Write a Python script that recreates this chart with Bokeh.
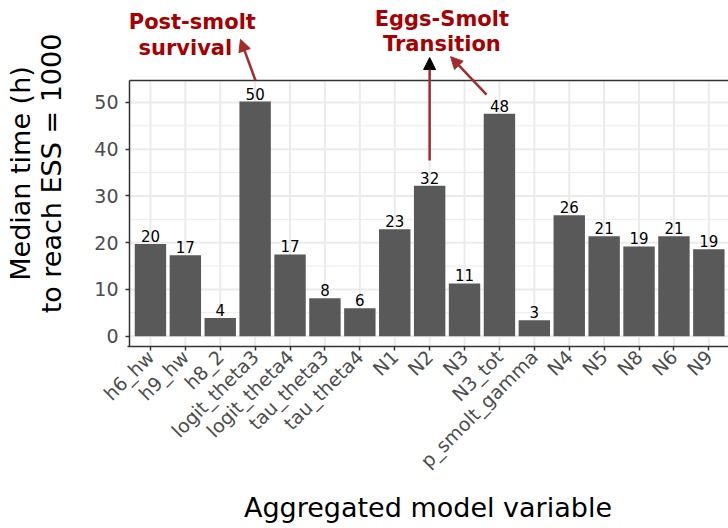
import math
from bokeh.plotting import figure
from bokeh.models import ColumnDataSource, FixedTicker, Arrow, NormalHead, Range1d
from bokeh.core.properties import value
from bokeh.embed import file_html
from bokeh.resources import INLINE

# ---- data ----
variables = ["h6_hw", "h9_hw", "h8_2", "logit_theta3", "logit_theta4", "tau_theta3",
             "tau_theta4", "N1", "N2", "N3", "N3_tot", "p_smolt_gamma", "N4", "N5",
             "N8", "N6", "N9"]
median_hours = [19.7, 17.3, 3.9, 50.2, 17.5, 8.1, 6.0, 22.9, 32.2, 11.3, 47.6, 3.4,
                25.9, 21.4, 19.2, 21.4, 18.6]
bar_labels = ["20", "17", "4", "50", "17", "8", "6", "23", "32", "11", "48", "3",
              "26", "21", "19", "21", "19"]
y_ticks = [0, 10, 20, 30, 40, 50]
y_minor = [5, 15, 25, 35, 45]

# annotation texts (data-space anchors)
note_text = ["Post-smolt", "survival", "Eggs-Smolt", "Transition"]
note_x = [2.2, 2.0, 9.35, 9.35]
note_y = [67.2, 61.55, 67.75, 62.6]

positions = list(range(1, len(variables) + 1))

# panel limits (data units)
X0, X1 = 0.4, 17.56
Y0, Y1 = -2.2, 54.7
PX_PER_UNIT = 34.9
FRAME_LEFT = 127

FONT = "DejaVu Sans"
DARK = "#333333"
GRID = "#EBEBEB"
RED_TEXT = "#A80000"
RED_ARROW = "#A52A2A"

src = ColumnDataSource(dict(x=positions, top=median_hours, label=bar_labels))

x_start = X0 - (129 - FRAME_LEFT) / PX_PER_UNIT
p = figure(width=728, height=528, output_backend="svg", toolbar_location=None,
           x_range=Range1d(x_start, x_start + (728 - FRAME_LEFT) / PX_PER_UNIT),
           y_range=Range1d(Y0, 71.81),
           min_border_left=FRAME_LEFT, min_border_right=0, min_border_top=0,
           min_border_bottom=182)
p.outline_line_color = None
p.xgrid.grid_line_color = None
p.ygrid.grid_line_color = None

# panel grid (limited to the panel area)
p.segment(x0=positions, x1=positions, y0=[Y0] * len(positions), y1=[Y1] * len(positions),
          line_color=GRID, line_width=2)
p.segment(x0=[X0] * len(y_minor), x1=[X1 + 1] * len(y_minor), y0=y_minor, y1=y_minor,
          line_color=GRID, line_width=1)
p.segment(x0=[X0] * len(y_ticks), x1=[X1 + 1] * len(y_ticks), y0=y_ticks, y1=y_ticks,
          line_color=GRID, line_width=2)

# bars
p.vbar(x="x", top="top", bottom=0, width=0.9, source=src,
       fill_color="#595959", line_color=None)
p.text(x="x", y="top", text="label", source=src, text_align="center",
       text_baseline="bottom", y_offset=-2, text_font=value(FONT),
       text_font_size="15px", text_color="black")

# panel border (left and top); bottom is the x axis line
p.line(x=[X0, X0], y=[Y0, Y1], line_color=DARK, line_width=1.5)
p.line(x=[X0, X1 + 1], y=[Y1, Y1], line_color=DARK, line_width=1.5)

# axes
xt = FixedTicker(ticks=positions)
yt = FixedTicker(ticks=y_ticks)
p.xaxis.ticker = xt
p.yaxis.ticker = yt
p.xaxis.major_label_overrides = {pos: v for pos, v in zip(positions, variables)}
p.xaxis.major_label_orientation = math.pi / 4

for ax in (p.xaxis[0], p.yaxis[0]):
    ax.axis_line_color = DARK
    ax.axis_line_width = 1.5
    ax.major_tick_line_color = DARK
    ax.major_tick_line_width = 1.5
    ax.minor_tick_line_color = None
    ax.major_label_text_font = FONT
    ax.major_label_text_font_size = "19px"
    ax.major_label_text_color = "#4D4D4D"
    ax.axis_label_text_font = FONT
    ax.axis_label_text_font_size = "27px"
    ax.axis_label_text_font_style = "normal"
    ax.axis_label_text_color = "black"

p.yaxis.axis_line_color = None
p.yaxis.major_tick_out = 2
p.yaxis.major_tick_in = 2
p.xaxis.major_tick_out = 4
p.xaxis.major_tick_in = 0

p.xaxis.axis_label = "Aggregated model variable"
p.yaxis.axis_label = "Median time (h)\nto reach ESS = 1000"
p.yaxis.axis_label_text_line_height = 1.0
p.xaxis.major_label_standoff = 3
p.yaxis.major_label_standoff = 7
p.xaxis.axis_label_standoff = 10
p.yaxis.axis_label_standoff = 24

# annotations
p.text(x=note_x, y=note_y, text=note_text, text_align="center",
       text_baseline="alphabetic", text_font=value(FONT), text_font_size="21px",
       text_font_style="bold", text_color=RED_TEXT)

p.add_layout(Arrow(x_start=4.01, y_start=Y1, x_end=3.58, y_end=63.5,
                   line_color=RED_ARROW, line_width=2.5,
                   end=NormalHead(size=12, fill_color=RED_ARROW, line_color=RED_ARROW)))
p.add_layout(Arrow(x_start=9.0, y_start=37.6, x_end=9.0, y_end=59.6,
                   line_color=RED_ARROW, line_width=2.5,
                   end=NormalHead(size=12, fill_color="black", line_color="black")))
p.add_layout(Arrow(x_start=10.63, y_start=51.7, x_end=9.6, y_end=59.8,
                   line_color=RED_ARROW, line_width=2.5,
                   end=NormalHead(size=12, fill_color=RED_ARROW, line_color=RED_ARROW)))

open("out.html", "w").write(file_html(p, INLINE))
